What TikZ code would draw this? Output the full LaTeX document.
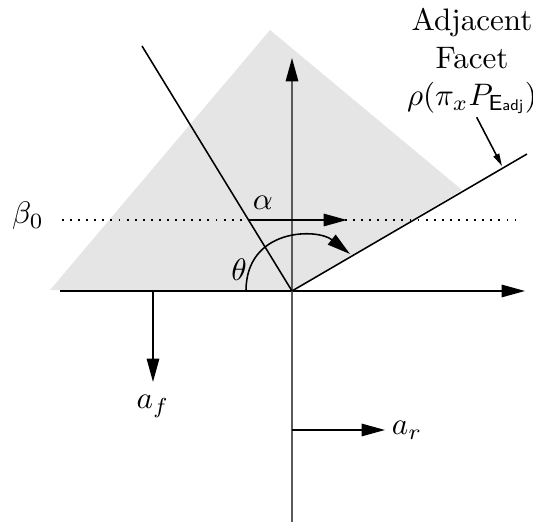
\documentclass[tikz,border=0pt]{standalone}
\usetikzlibrary{arrows.meta, positioning}
\definecolor{facetgray}{HTML}{E5E5E5}
\definecolor{axisgray}{HTML}{5A5A5A}
\tikzset{
  % frecce principali (assi, vettori)
  bigarrow/.style={-{Triangle[length=7.5pt, width=4pt]}},
  % freccia verso la faccetta
  smallarrow/.style={-{Triangle[length=4pt, width=2pt]}},
  % etichette
  lbl/.style={inner sep=2pt},
  % regione del cono
  cone/.style={fill=facetgray, draw=none},
}

\begin{document}
\begin{tikzpicture}[x=0.0113cm, y=-0.0113cm, line width=0.5pt]
  \useasboundingbox (0,0) rectangle (533,522);
  \coordinate (o) at (292,291);
  \fill[cone] (50,290) -- (270,30) -- (462,190) -- (o) -- cycle;
  % assi
  \coordinate (xl) at (60,291);
  \coordinate (xr) at (525,291);
  \coordinate (yb) at (292,522);
  \coordinate (yt) at (292,58);
  \draw[bigarrow] (xl) -- (xr);
  \draw[-{Triangle[length=7.5pt, width=4pt, color=black]}, axisgray] (yb) -- (yt);
  % raggio incidente e faccetta
  \coordinate (inc) at (142,46);
  \coordinate (fct) at (527,154);
  \draw (inc) -- (o);
  \draw (o) -- (fct);
  % linea beta_0
  \node[lbl] (beta) at (28,216) {$\beta_0$};
  \coordinate (bl) at (62,220);
  \coordinate (br) at (520,220);
  \draw[dotted, line width=0.6pt] (bl) -- (br);
  \coordinate (hit) at (249,220);
  \coordinate (aend) at (347,220);
  \draw[bigarrow] (hit) -- (aend);
  \node[lbl] (alpha) at (263,203) {$\alpha$};
  % angolo theta
  \coordinate (ths) at (246,291);
  \coordinate (the) at (350,254);
  \draw[bigarrow] (ths) .. controls (246,228) and (317,228) .. (the);
  \node[lbl] (theta) at (239,270) {$\theta$};
  % vettori a_f e a_r
  \coordinate (ftick) at (153,291);
  \coordinate (ftip) at (153,382);
  \draw[bigarrow] (ftick) -- (ftip) node[below=2pt, lbl] (af) {$a_f$};
  \coordinate (rtick) at (292,430);
  \coordinate (rtip) at (385,430);
  \draw[bigarrow] (rtick) -- (rtip) node[right, lbl] (ar) {$a_r$};
  % etichetta della faccetta adiacente
  \node[align=center, inner sep=1pt] (adj) at (472,61)
    {Adjacent\\Facet\\$\rho(\pi_x P_{\mathsf{E}\mbox{\tiny\sffamily adj}})$};
  \coordinate (fp) at (502,166);
  \draw[smallarrow] ([xshift=1.5pt]adj.south) -- (fp);
\end{tikzpicture}
\end{document}
